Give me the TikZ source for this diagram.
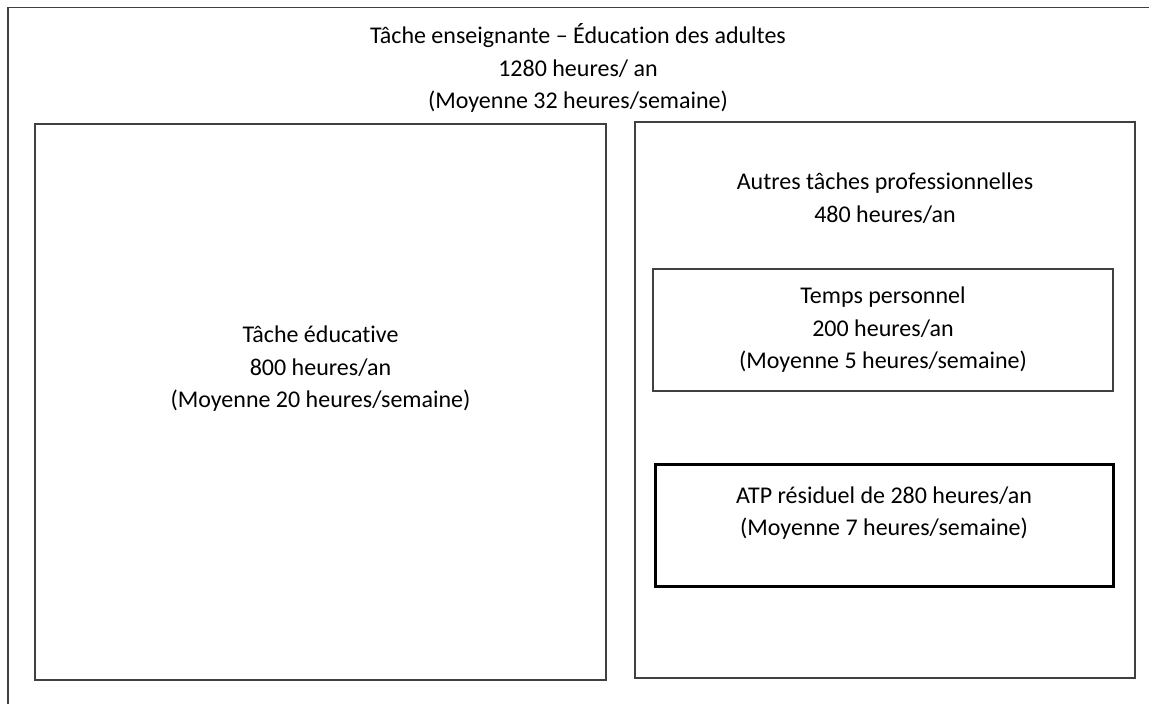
\documentclass[tikz,border=0pt]{standalone}
\usepackage{fontspec}
\setmainfont[Ligatures={TeX,NoCommon},Contextuals=NoAlternate]{Carlito}
\usetikzlibrary{positioning}

\begin{document}
\begin{tikzpicture}[x=1pt,y=-1pt,every node/.style={font=\fontsize{24}{32.5}\selectfont,align=center}]
    \tikzset{box/.style={draw=black!75,line width=1.5pt,rectangle,inner sep=0pt}}
    \useasboundingbox (0,0) rectangle (1149,704);
    % outer frame, cut by the page
    \coordinate (fbot) at (8,712);
    \coordinate (fcorner) at (8,7.5);
    \coordinate (fright) at (1160,7.5);
    \draw[black!75,line width=1.5pt] (fbot) -- (fcorner) -- (fright);
    \node (titre) at (578,68) {Tâche enseignante – Éducation des adultes\\1280 heures/ an\\(Moyenne 32 heures/semaine)};
    % left part
    \node[box,minimum width=571pt,minimum height=556pt] (educ) at (320.5,402) {};
    \node (educt) at (320.5,369) {Tâche éducative\\800 heures/an\\(Moyenne 20 heures/semaine)};
    % right part
    \node[box,minimum width=500pt,minimum height=556pt] (autres) at (885,400) {};
    \node (autrest) at (885,198) {Autres tâches professionnelles\\480 heures/an};
    \node[box,minimum width=460pt,minimum height=122pt] (perso) at (883,330) {Temps personnel\\200 heures/an\\(Moyenne 5 heures/semaine)};
    \node[box,draw=black,line width=3pt,minimum width=458pt,minimum height=122pt] (atp) at (884,525) {};
    \node (atpt) at (884,513) {ATP résiduel de 280 heures/an\\(Moyenne 7 heures/semaine)};
\end{tikzpicture}
\end{document}
